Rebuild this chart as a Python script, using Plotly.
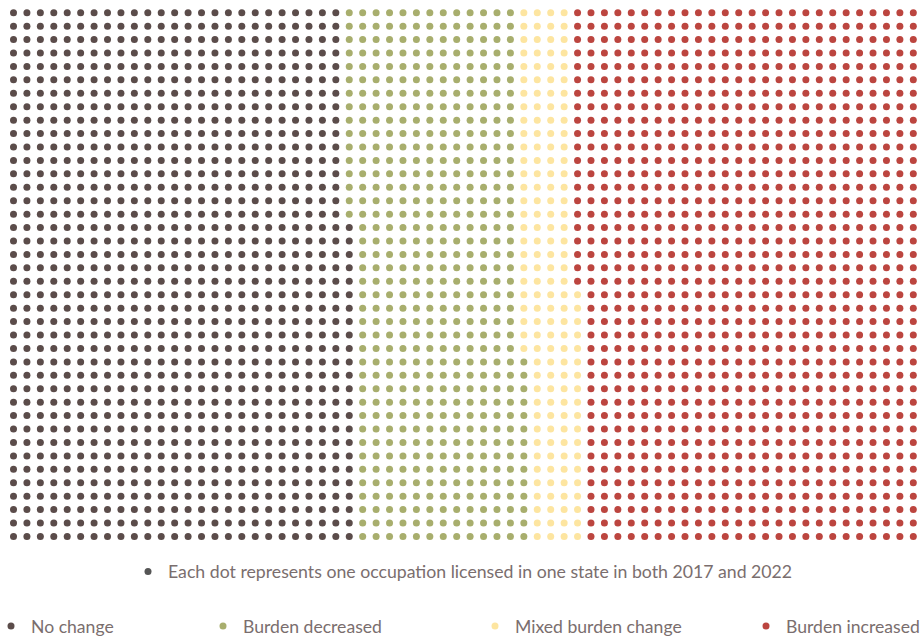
import plotly.graph_objects as go

# ---- data ----
categories = ["No change", "Burden decreased", "Mixed burden change", "Burden increased"]
counts = [1024, 510, 165, 1021]
colors = ["#5b4c4a", "#a8ae6d", "#fde5a0", "#bc453f"]
note_text = "Each dot represents one occupation licensed in one state in both 2017 and 2022"
n_rows = 40
n_cols = 68

W, H = 923, 639

# grid fill: column-major, bottom to top
fig = go.Figure()
start = 0
legend_names = ["legend", "legend2", "legend3", "legend4"]
for cat, cnt, col, lg in zip(categories, counts, colors, legend_names):
    idx = list(range(start, start + cnt))
    xs = [i // n_rows for i in idx]
    ys = [i % n_rows for i in idx]
    start += cnt
    fig.add_trace(go.Scatter(
        x=xs, y=ys, mode="markers", name=cat, legend=lg,
        marker=dict(size=7, color=col, line=dict(width=0)),
        hoverinfo="skip",
    ))

# note entry (legend only)
fig.add_trace(go.Scatter(
    x=[None], y=[None], mode="markers", name=note_text, legend="legend5",
    marker=dict(size=7, color="#555555"), hoverinfo="skip",
))

step = 13.43
x0_px = 13.5
y_top_px = 12.7
plot_bottom_px = 550
x_range = [-x0_px / step, (W - x0_px) / step]
top_val = (n_rows - 1) + y_top_px / step
bottom_val = (n_rows - 1) - (plot_bottom_px - y_top_px) / step
y_range = [bottom_val, top_val]

legend_font = dict(family="Lato", size=17, color="#7a6e6e")

def leg(px_dot, py, size=17.6):
    return dict(
        x=(px_dot - 19) / W, xref="paper", xanchor="left",
        y=1 - py / H, yref="container", yanchor="middle",
        orientation="h", font=dict(legend_font, size=size), bgcolor="rgba(0,0,0,0)",
        borderwidth=0, itemsizing="trace", tracegroupgap=0,
    )

fig.update_layout(
    width=W, height=H, autosize=False,
    margin=dict(l=0, r=0, t=0, b=H - plot_bottom_px, autoexpand=False),
    paper_bgcolor="white", plot_bgcolor="white",
    xaxis=dict(range=x_range, visible=False, fixedrange=True),
    yaxis=dict(range=y_range, visible=False, fixedrange=True),
    showlegend=True,
    legend=leg(10, 626),
    legend2=leg(222, 626),
    legend3=leg(494, 626),
    legend4=leg(765, 626),
    legend5=leg(147, 572, 17.7),
    hovermode=False,
)

fig.write_html(
    "out.html",
    config={"displayModeBar": False},
    post_script="document.body.style.margin='0';document.body.style.overflow='hidden';",
)
